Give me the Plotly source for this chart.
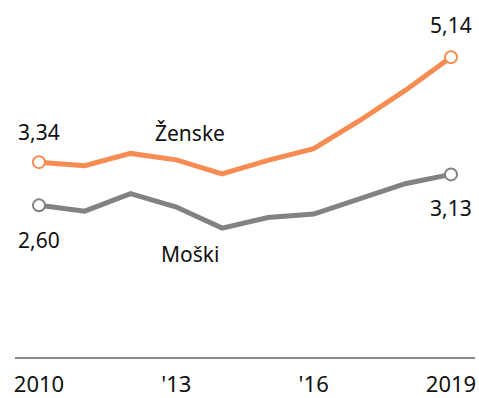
import plotly.graph_objects as go

years = [2010, 2011, 2012, 2013, 2014, 2015, 2016, 2017, 2018, 2019]
zenske = [3.34, 3.28, 3.49, 3.38, 3.14, 3.37, 3.57, 4.05, 4.57, 5.14]
moski = [2.60, 2.50, 2.80, 2.57, 2.21, 2.39, 2.45, 2.71, 2.97, 3.13]
tick_vals = [2010, 2013, 2016, 2019]
tick_text = ["2010", "'13", "'16", "2019"]

ORANGE = "#F68C52"
GRAY = "#828282"
FONT = "'Noto Sans', sans-serif"

def fmt(v):
    return f"{v:.2f}".replace(".", ",")

fig = go.Figure()
for vals, color in [(zenske, ORANGE), (moski, GRAY)]:
    fig.add_trace(go.Scatter(
        x=years, y=vals, mode="lines",
        line=dict(color=color, width=5), hoverinfo="skip"))
    fig.add_trace(go.Scatter(
        x=[years[0], years[-1]], y=[vals[0], vals[-1]], mode="markers",
        marker=dict(size=12, color="white", line=dict(color=color, width=2)),
        hoverinfo="skip"))

ann = [
    dict(x=years[0], y=zenske[0], text=fmt(zenske[0]), yshift=30),
    dict(x=years[-1], y=zenske[-1], text=fmt(zenske[-1]), yshift=32),
    dict(x=years[0], y=moski[0], text=fmt(moski[0]), yshift=-35),
    dict(x=years[-1], y=moski[-1], text=fmt(moski[-1]), yshift=-34),
    dict(x=2013.3, y=zenske[3], text="Ženske", yshift=27),
    dict(x=2013.3, y=moski[3], text="Moški", yshift=-47),
]
for a in ann:
    a.update(xref="x", yref="y", showarrow=False,
             font=dict(family=FONT, size=21, color="#111111"))

fig.update_layout(
    width=479, height=398,
    margin=dict(l=15, r=4, t=0, b=41),
    paper_bgcolor="white", plot_bgcolor="white",
    showlegend=False,
    annotations=ann,
    xaxis=dict(range=[2009.476, 2019.524], tickvals=tick_vals, ticktext=tick_text,
               showgrid=False, zeroline=False, showline=True,
               linecolor="#8a8a8a", linewidth=2, ticks="",
               ticklabelstandoff=7, automargin=False,
               tickfont=dict(family=FONT, size=22, color="#111111")),
    yaxis=dict(range=[0, 6.12], visible=False, showgrid=False, zeroline=False,
               automargin=False),
)

fig.write_html("out.html")
